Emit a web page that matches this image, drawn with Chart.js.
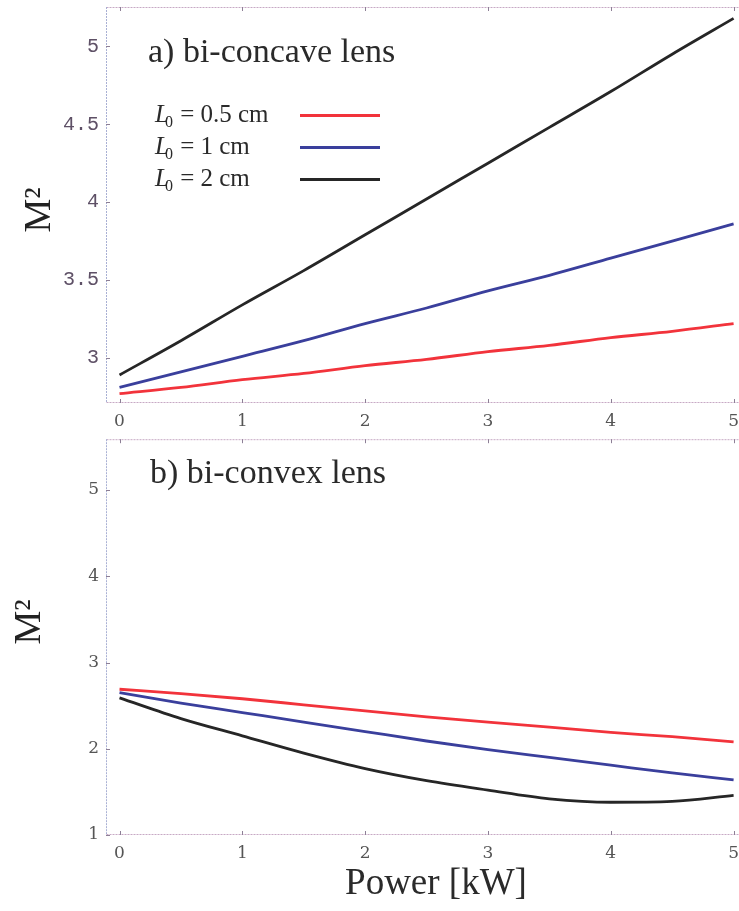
<!DOCTYPE html>
<html>
<head>
<meta charset="utf-8">
<script src="https://cdn.jsdelivr.net/npm/chart.js@4/dist/chart.umd.min.js"></script>
<style>
  html,body{margin:0;padding:0;background:#fff;}
  #wrap{position:relative;width:739px;height:911px;overflow:hidden;}
  #c1{position:absolute;left:0;top:-12px;}
  #c2{position:absolute;left:0;top:422px;}
</style>
</head>
<body>
<div id="wrap">
  <canvas id="c1" width="747" height="442"></canvas>
  <canvas id="c2" width="747" height="489"></canvas>
</div>
<script>
// ---- data ----
const power = [0, 0.5, 1, 1.5, 2, 2.5, 3, 3.5, 4, 4.5, 5];
const seriesLabels = ['L0 = 0.5 cm', 'L0 = 1 cm', 'L0 = 2 cm'];
const legendValues = ['0.5', '1', '2'];
// a) bi-concave lens
const concaveL05 = [2.77, 2.81, 2.86, 2.90, 2.95, 2.99, 3.04, 3.08, 3.13, 3.17, 3.22];
const concaveL1  = [2.81, 2.91, 3.01, 3.11, 3.22, 3.32, 3.43, 3.53, 3.64, 3.75, 3.86];
const concaveL2  = [2.89, 3.11, 3.34, 3.56, 3.79, 4.02, 4.25, 4.48, 4.71, 4.95, 5.18];
// b) bi-convex lens
const convexL05 = [2.69, 2.64, 2.58, 2.51, 2.44, 2.37, 2.31, 2.25, 2.19, 2.14, 2.08];
const convexL1  = [2.65, 2.53, 2.42, 2.31, 2.20, 2.09, 1.99, 1.90, 1.81, 1.72, 1.64];
const convexL2  = [2.59, 2.35, 2.15, 1.95, 1.77, 1.63, 1.52, 1.42, 1.38, 1.39, 1.46];
// ticks
const xTicks = [0, 1, 2, 3, 4, 5];
const yTicksTop = [3, 3.5, 4, 4.5, 5];
const yTicksBottom = [1, 2, 3, 4, 5];
const panelTitles = ['a) bi-concave lens', 'b) bi-convex lens'];
const yTitle = 'M\u00B2';
const xTitle = 'Power [kW]';

const colors = ['#f2333b', '#3a3f9c', '#262626'];

function mkData(arrs){
  return {
    datasets: arrs.map((a,i)=>({
      label: seriesLabels[i],
      data: power.map((p,k)=>({x:p, y:a[k]})),
      borderColor: colors[i],
      backgroundColor: colors[i],
      borderWidth: 2.8,
      pointRadius: 0,
      tension: 0.4,
      cubicInterpolationMode: 'monotone',
      fill: false
    }))
  };
}

const framePlugin = {
  id: 'frame',
  beforeDatasetsDraw(chart){
    const {ctx, chartArea:{left,top,right,bottom}, scales:{x,y}} = chart;
    ctx.save();
    ctx.lineWidth = 1;
    ctx.setLineDash([2,1]);
    ctx.strokeStyle = '#c7a9c4';
    ctx.beginPath();
    ctx.moveTo(left+0.5, bottom-0.5); ctx.lineTo(right-0.5, bottom-0.5);
    ctx.moveTo(left+0.5, top+0.5); ctx.lineTo(right-0.5, top+0.5);
    ctx.stroke();
    ctx.strokeStyle = '#a9b0d4';
    ctx.beginPath();
    ctx.moveTo(left+0.5, top); ctx.lineTo(left+0.5, bottom);
    ctx.moveTo(right-0.5, top); ctx.lineTo(right-0.5, bottom);
    ctx.stroke();
    ctx.setLineDash([]);
    ctx.strokeStyle = '#8d7f96';
    ctx.beginPath();
    x.ticks.forEach(t=>{
      const px = Math.round(x.getPixelForValue(t.value))+0.5;
      ctx.moveTo(px, bottom); ctx.lineTo(px, bottom-4);
      ctx.moveTo(px, top); ctx.lineTo(px, top+4);
    });
    y.ticks.forEach(t=>{
      const py = Math.round(y.getPixelForValue(t.value))+0.5;
      ctx.moveTo(left, py); ctx.lineTo(left+4, py);
    });
    ctx.stroke();
    ctx.restore();
  }
};

const annoPlugin = {
  id: 'anno',
  afterDatasetsDraw(chart, args, opts){
    const ctx = chart.ctx;
    ctx.save();
    ctx.fillStyle = '#2a2a2a';
    ctx.textBaseline = 'alphabetic';
    ctx.textAlign = 'left';
    ctx.font = '34px "Liberation Serif"';
    ctx.fillText(opts.title, opts.tx, opts.ty);
    if (opts.legend) {
      const rows = [opts.ly, opts.ly+32, opts.ly+64];
      rows.forEach((yy,i)=>{
        let xx = opts.lx;
        ctx.fillStyle = '#2a2a2a';
        ctx.font = 'italic 25px "Liberation Serif"';
        ctx.fillText('L', xx, yy);
        xx += ctx.measureText('L').width - 4;
        ctx.font = '16px "Liberation Serif"';
        ctx.fillText('0', xx, yy+5);
        xx += ctx.measureText('0').width + 1;
        ctx.font = '25px "Liberation Serif"';
        ctx.fillText(' = ' + legendValues[i] + ' cm', xx, yy);
        ctx.strokeStyle = chart.data.datasets[i].borderColor;
        ctx.lineWidth = 3;
        ctx.beginPath();
        ctx.moveTo(300, yy-6.5); ctx.lineTo(380, yy-6.5);
        ctx.stroke();
      });
    }
    // y axis title (rotated)
    ctx.fillStyle = '#222';
    ctx.font = '38px "Liberation Serif"';
    ctx.textAlign = 'center';
    ctx.textBaseline = 'middle';
    ctx.save();
    ctx.translate(opts.yx, opts.yy);
    ctx.rotate(-Math.PI/2);
    ctx.fillText(yTitle, 0, 0);
    ctx.restore();
    if (opts.xTitle) {
      ctx.font = '37px "Liberation Serif"';
      ctx.textAlign = 'center';
      ctx.textBaseline = 'alphabetic';
      ctx.fillStyle = '#2a2a2a';
      ctx.fillText(xTitle, opts.xx, opts.xy);
    }
    ctx.restore();
  }
};

function makeChart(id, arrs, cfg){
  return new Chart(document.getElementById(id), {
    type: 'line',
    data: mkData(arrs),
    plugins: [framePlugin, annoPlugin],
    options: {
      responsive: false,
      animation: false,
      devicePixelRatio: 1,
      layout: { padding: { top: cfg.padTop, right: 0, left: 0, bottom: 0 } },
      plugins: {
        legend: { display: false },
        tooltip: { enabled: false },
        anno: cfg.anno
      },
      scales: {
        x: {
          type: 'linear',
          min: -0.11, max: 5.06,
          grid: { display: false, drawTicks: false },
          border: { display: false },
          afterBuildTicks: s => { s.ticks = xTicks.map(v=>({value:v})); },
          afterFit: s => { s.height = cfg.xHeight; },
          ticks: {
            padding: cfg.xTickPad,
            color: '#555',
            font: { family: '"DejaVu Serif"', size: 17 },
            maxRotation: 0
          }
        },
        y: {
          type: 'linear',
          min: cfg.ymin, max: cfg.ymax,
          grid: { display: false, drawTicks: false },
          border: { display: false },
          afterBuildTicks: s => { s.ticks = cfg.yTicks.map(v=>({value:v})); },
          afterFit: s => { s.width = 106; },
          ticks: {
            padding: 7,
            color: cfg.yTickColor,
            font: cfg.yTickFont,
            callback: v => String(v)
          }
        }
      }
    }
  });
}

makeChart('c1', [concaveL05, concaveL1, concaveL2], {
  padTop: 7, xHeight: 27, xTickPad: 8,
  ymin: 2.71, ymax: 5.253,
  yTicks: yTicksTop,
  yTickColor: '#5e5066',
  yTickFont: { family: '"Liberation Mono"', size: 20 },
  anno: { title: panelTitles[0], tx: 148, ty: 74, legend: true, lx: 155, ly: 134,
          yx: 40, yy: 222, xTitle: false }
});

makeChart('c2', [convexL05, convexL1, convexL2], {
  padTop: 9, xHeight: 76, xTickPad: 8,
  ymin: 1, ymax: 5.59,
  yTicks: yTicksBottom,
  yTickColor: '#555',
  yTickFont: { family: '"DejaVu Serif"', size: 17 },
  anno: { title: panelTitles[1], tx: 150, ty: 61, legend: false,
          yx: 30, yy: 200, xTitle: true, xx: 436, xy: 472 }
});
</script>
</body>
</html>
